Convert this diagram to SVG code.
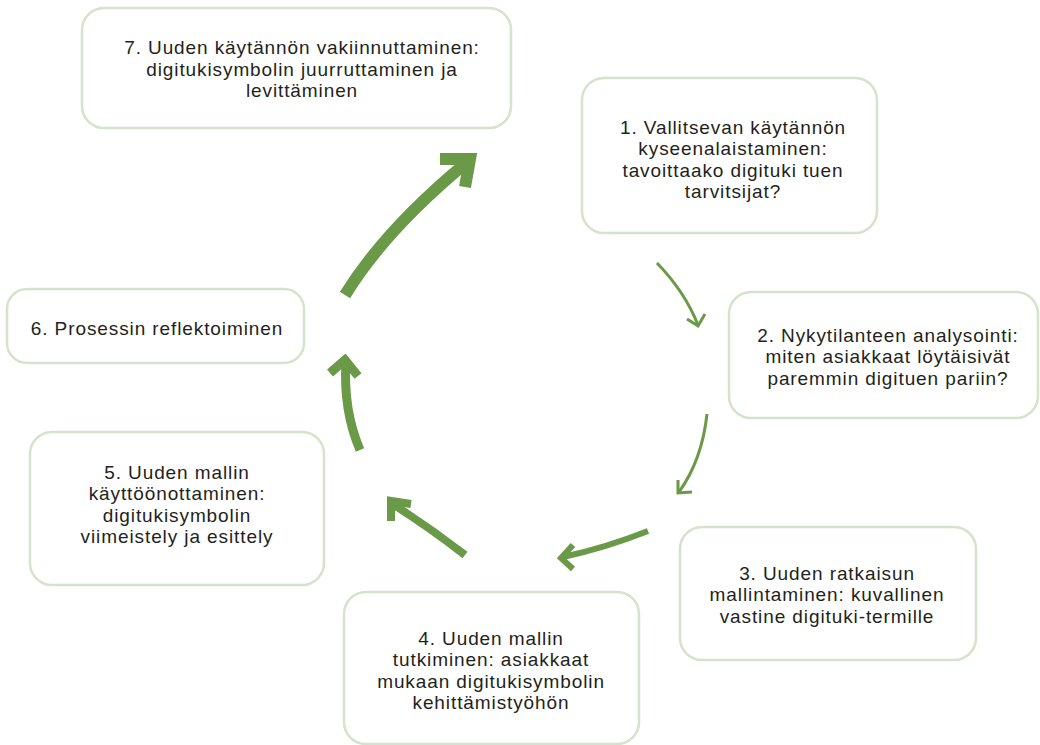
<svg xmlns="http://www.w3.org/2000/svg" width="1040" height="745" viewBox="0 0 1040 745">
<style>
.box{fill:#ffffff;stroke:#d4e3c9;stroke-width:2.5}
.t{font-family:"Liberation Sans",Arial,sans-serif;font-size:19px;letter-spacing:0.9px;fill:#231f20;text-anchor:middle}
.a{fill:none;stroke:#6a9a47;stroke-linecap:butt;stroke-linejoin:miter;stroke-miterlimit:10}
</style>
<rect width="1040" height="745" fill="#ffffff"/>
<g id="connectors">
<path class="a" stroke-width="3" d="M657,263 Q685,292 698,325"/>
<path class="a" stroke-width="3" d="M687,319 L698,326 L705,314"/>
<path class="a" stroke-width="3" d="M707,414 Q702,460 679,492"/>
<path class="a" stroke-width="3" d="M678,480 L678,493 L692,492"/>
<path class="a" stroke-width="6" d="M648,531 Q605,548 563,557"/>
<path class="a" stroke-width="6" d="M573,545 L561,558 L573,569"/>
<path class="a" stroke-width="8" d="M465,555 Q430,528 394,505"/>
<path class="a" stroke-width="8" d="M391,521 L391,501 L411,504"/>
<path class="a" stroke-width="9" d="M360,450 Q343,410 346,362"/>
<path class="a" stroke-width="9" d="M330,373 L345,360 L358,376"/>
<path class="a" stroke-width="12" d="M345,295 Q385,230 466,163"/>
<path class="a" stroke-width="12" d="M440,159 L470,159 L465,187"/>
</g>
<g id="n7">
<rect class="box" x="82" y="8" width="429" height="120" rx="22"/>
<text class="t" y="54"><tspan x="302">7. Uuden käytännön vakiinnuttaminen:</tspan><tspan x="302" dy="21.5">digitukisymbolin juurruttaminen ja</tspan><tspan x="302" dy="21.5">levittäminen</tspan></text>
</g>
<g id="n1">
<rect class="box" x="582" y="78" width="295" height="155" rx="22"/>
<text class="t" y="134"><tspan x="733">1. Vallitsevan käytännön</tspan><tspan x="733" dy="21.4">kyseenalaistaminen:</tspan><tspan x="733" dy="21.4">tavoittaako digituki tuen</tspan><tspan x="733" dy="21.4">tarvitsijat?</tspan></text>
</g>
<g id="n2">
<rect class="box" x="729" y="292" width="309" height="126" rx="22"/>
<text class="t" y="342"><tspan x="888">2. Nykytilanteen analysointi:</tspan><tspan x="888" dy="21.4">miten asiakkaat löytäisivät</tspan><tspan x="888" dy="21.4">paremmin digituen pariin?</tspan></text>
</g>
<g id="n3">
<rect class="box" x="680" y="527" width="296" height="133" rx="22"/>
<text class="t" y="580"><tspan x="827">3. Uuden ratkaisun</tspan><tspan x="827" dy="21.4">mallintaminen: kuvallinen</tspan><tspan x="827" dy="21.4">vastine digituki-termille</tspan></text>
</g>
<g id="n4">
<rect class="box" x="344" y="592" width="295" height="152" rx="22"/>
<text class="t" y="645"><tspan x="491">4. Uuden mallin</tspan><tspan x="491" dy="21.4">tutkiminen: asiakkaat</tspan><tspan x="491" dy="21.4">mukaan digitukisymbolin</tspan><tspan x="491" dy="21.4">kehittämistyöhön</tspan></text>
</g>
<g id="n5">
<rect class="box" x="30" y="432" width="294" height="153" rx="22"/>
<text class="t" y="479"><tspan x="177">5. Uuden mallin</tspan><tspan x="177" dy="21.4">käyttöönottaminen:</tspan><tspan x="177" dy="21.4">digitukisymbolin</tspan><tspan x="177" dy="21.4">viimeistely ja esittely</tspan></text>
</g>
<g id="n6">
<rect class="box" x="7" y="289" width="297" height="74" rx="20"/>
<text class="t" x="157" y="335">6. Prosessin reflektoiminen</text>
</g>
</svg>
